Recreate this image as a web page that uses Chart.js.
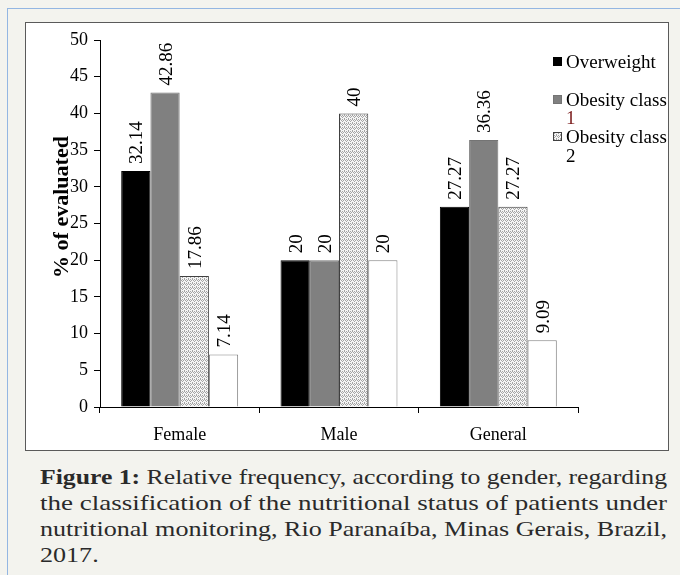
<!DOCTYPE html>
<html>
<head>
<meta charset="utf-8">
<script src="https://cdn.jsdelivr.net/npm/chart.js@4/dist/chart.umd.min.js"></script>
<style>
    body { margin: 0; width: 680px; height: 575px; background: #f3f3ee; position: relative; overflow: hidden; }
    .frameTop { position: absolute; left: 7px; top: 8px; width: 673px; height: 1px; background: #93b6e2; }
    .frameLeft { position: absolute; left: 7px; top: 8px; width: 1px; height: 567px; background: #93b6e2; }
    .chartBox { position: absolute; left: 25px; top: 22px; width: 642px; height: 427px; background: #fff; border: 1px solid #5a5a5a; }
    #chartCanvas { position: absolute; left: 26px; top: 23px; }
    .caption { position: absolute; left: 40px; top: 464px; font-family: 'Liberation Serif', serif; font-size: 21.5px; line-height: 26px; color: #2a2a2a; white-space: nowrap; }
    .caption span { display: block; width: fit-content; transform-origin: 0 0; }
</style>
</head>
<body>
<div class="frameTop"></div>
<div class="frameLeft"></div>
<div class="chartBox"></div>
<canvas id="chartCanvas" width="642" height="427"></canvas>
<div class="caption" id="caption">
    <span><b>Figure 1:</b> Relative frequency, according to gender, regarding</span>
    <span>the classification of the nutritional status of patients under</span>
    <span>nutritional monitoring, Rio Paranaíba, Minas Gerais, Brazil,</span>
    <span>2017.</span>
</div>
<script>
const categories = ['Female', 'Male', 'General'];
const overweight = [32.14, 20, 27.27];
const obesityClass1 = [42.86, 20, 36.36];
const obesityClass2 = [17.86, 40, 27.27];
const obesityClass3 = [7.14, 20, 9.09];
const yTicks = [0, 5, 10, 15, 20, 25, 30, 35, 40, 45, 50];
const yTitle = '% of evaluated';
// legend lines as they are wrapped in the picture (4th entry is cut off)
const legendLines = [['Overweight'], ['Obesity class', '1'], ['Obesity class', '2']];

const serif = "'Liberation Serif', 'Times New Roman', serif";

// stretch the caption lines so they fill the width like the justified original
const captionLines = document.querySelectorAll('#caption span');
let lastScale = 1;
captionLines.forEach((el, i) => {
    if (i < captionLines.length - 1) {
        lastScale = 627 / el.getBoundingClientRect().width;
    }
    el.style.transform = 'scaleX(' + lastScale + ')';
});

function dottedPattern() {
    // small stipple tile
    const dots = ['1010', '0101', '1000', '0010'];
    const c = document.createElement('canvas');
    c.width = 4;
    c.height = 4;
    const g = c.getContext('2d');
    g.fillStyle = '#f4f4f4';
    g.fillRect(0, 0, 4, 4);
    g.fillStyle = '#a4a4a4';
    dots.forEach((row, y) => {
        for (let x = 0; x < 4; x++) {
            if (row[x] === '1') g.fillRect(x, y, 1, 1);
        }
    });
    return g.createPattern(c, 'repeat');
}

// value labels above bars, rotated
const valueLabels = {
    id: 'valueLabels',
    afterDatasetsDraw(chart) {
        const ctx = chart.ctx;
        ctx.save();
        ctx.font = '19px ' + serif;
        ctx.fillStyle = '#000';
        ctx.textAlign = 'left';
        ctx.textBaseline = 'alphabetic';
        chart.data.datasets.forEach((ds, i) => {
            chart.getDatasetMeta(i).data.forEach((bar, j) => {
                ctx.save();
                ctx.translate(bar.x + 6.5, bar.y - 7);
                ctx.rotate(-Math.PI / 2);
                ctx.fillText(String(ds.data[j]), 0, 0);
                ctx.restore();
            });
        });
        ctx.restore();
    }
};

// axis title and wrapped legend
const extras = {
    id: 'extras',
    afterDraw(chart) {
        const ctx = chart.ctx;
        ctx.save();
        ctx.translate(36, 184);
        ctx.rotate(-Math.PI / 2);
        ctx.font = 'bold 22px ' + serif;
        ctx.fillStyle = '#000';
        ctx.textAlign = 'center';
        ctx.textBaseline = 'middle';
        ctx.fillText(yTitle, 0, 0);
        ctx.restore();

        const rows = [[39], [77, 95], [114, 133]];
        ctx.save();
        ctx.font = '19px ' + serif;
        ctx.textAlign = 'left';
        ctx.textBaseline = 'middle';
        legendLines.forEach((lines, i) => {
            const ds = chart.data.datasets[i];
            const y0 = rows[i][0];
            ctx.fillStyle = ds.backgroundColor;
            ctx.fillRect(527, y0 - 5, 9, 9);
            ctx.strokeStyle = ds.borderColor;
            ctx.lineWidth = 1;
            ctx.strokeRect(527.5, y0 - 4.5, 8, 8);
            lines.forEach((t, k) => {
                ctx.fillStyle = (i === 1 && k === 1) ? '#7b1c1c' : '#000';
                ctx.fillText(t, 540, rows[i][k] + 1);
            });
        });
        ctx.restore();
    }
};

const ctx = document.getElementById('chartCanvas').getContext('2d');
new Chart(ctx, {
    type: 'bar',
    data: {
        labels: categories,
        datasets: [
            { label: 'Overweight', data: overweight, backgroundColor: '#000000', borderColor: '#000000', borderWidth: 1 },
            { label: 'Obesity class 1', data: obesityClass1, backgroundColor: '#808080', borderColor: '#747474', borderWidth: 1 },
            { label: 'Obesity class 2', data: obesityClass2, backgroundColor: dottedPattern(), borderColor: '#404040', borderWidth: 1 },
            { label: 'Obesity class 3', data: obesityClass3, backgroundColor: '#ffffff', borderColor: '#808080', borderWidth: 1 }
        ]
    },
    options: {
        responsive: false,
        devicePixelRatio: 1,
        animation: false,
        layout: { padding: { top: 17, right: 90, left: 0, bottom: 0 } },
        datasets: { bar: { categoryPercentage: 0.734, barPercentage: 1 } },
        plugins: {
            legend: { display: false },
            tooltip: { enabled: false }
        },
        scales: {
            x: {
                offset: true,
                grid: { display: true, drawOnChartArea: false, tickLength: 6, color: '#000', offset: true },
                border: { color: '#000' },
                ticks: { font: { family: serif, size: 18 }, color: '#000', padding: 11 },
                afterFit: s => { s.height = 43; }
            },
            y: {
                min: 0,
                max: 50,
                afterBuildTicks: s => { s.ticks = yTicks.map(v => ({ value: v })); },
                grid: { drawOnChartArea: false, tickLength: 6, color: '#000' },
                border: { color: '#000' },
                ticks: { font: { family: serif, size: 18 }, color: '#000', padding: 6 },
                afterFit: s => { s.width = 74; }
            }
        }
    },
    plugins: [valueLabels, extras]
});
</script>
</body>
</html>
